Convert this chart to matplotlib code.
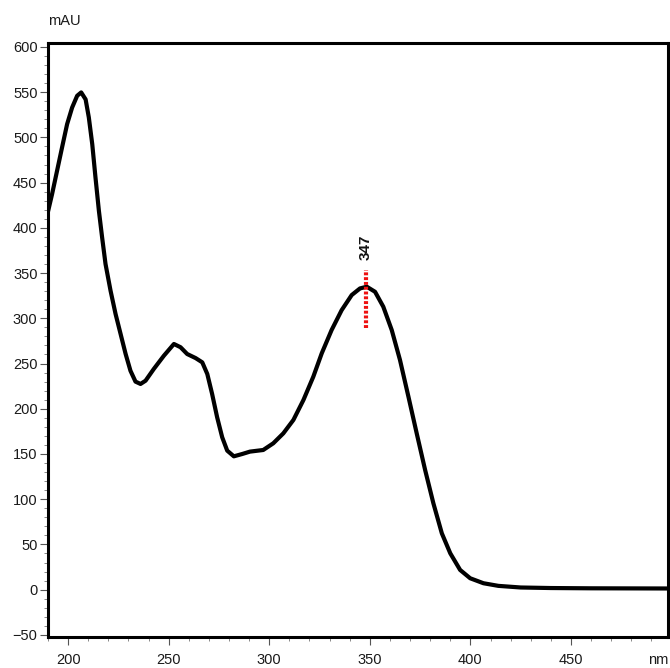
import matplotlib
matplotlib.use("Agg")
import matplotlib.pyplot as plt
from matplotlib.ticker import MultipleLocator, FixedLocator

plt.rcParams['font.family'] = ['Liberation Sans', 'DejaVu Sans']

# Spectrum (wavelength nm, absorbance mAU)
wavelength = [189.9, 192.0, 194.5, 197.0, 199.5, 202.0, 204.5, 206.5, 208.7, 210.3,
              212.0, 213.6, 215.3, 216.9, 218.6, 221.1, 223.6, 226.1, 228.6, 231.0,
              233.5, 236.0, 238.5, 242.6, 247.6, 252.6, 255.9, 259.2, 263.4, 266.7,
              269.2, 271.6, 274.1, 276.6, 279.1, 282.4, 286.6, 290.4, 297.0, 302.0,
              307.0, 312.0, 317.0, 321.9, 326.1, 331.0, 336.0, 341.0, 345.1, 348.5,
              352.6, 356.7, 360.9, 365.0, 369.2, 373.3, 377.5, 381.6, 385.8, 390.0,
              394.9, 399.9, 406.5, 413.9, 425.0, 440.0, 460.0, 498.0]
absorbance = [417.0, 437.0, 463.0, 489.0, 514.6, 533.0, 546.0, 549.7, 542.0, 522.0,
              492.5, 455.8, 418.9, 389.5, 360.0, 330.5, 304.7, 282.6, 260.5, 242.0,
              230.0, 227.4, 231.0, 244.0, 258.6, 271.6, 268.0, 260.5, 256.0, 251.3,
              238.4, 216.3, 190.5, 168.5, 153.7, 147.4, 150.0, 152.6, 154.4, 161.8,
              172.8, 187.6, 209.7, 235.4, 261.3, 287.0, 309.0, 325.7, 333.0, 334.9,
              329.3, 312.8, 287.0, 253.9, 213.3, 172.9, 132.3, 95.5, 62.3, 40.2,
              21.8, 12.6, 7.1, 4.2, 2.4, 1.8, 1.5, 1.3]

peak_label = "347"
peak_x = 348.0
peak_line = [289.0, 353.0]
peak_text_y = 364.0

x_major = [200, 250, 300, 350, 400, 450]
x_labels = ["200", "250", "300", "350", "400", "450"]
y_major = list(range(-50, 601, 50))

fig = plt.figure(figsize=(6.70, 6.68), dpi=100)
ax = fig.add_axes([48/670, 1-636.7/668, (667.5-48)/670, (636.7-43.3)/668])

ax.plot(wavelength, absorbance, color='black', lw=3.0, solid_joinstyle='round',
        solid_capstyle='round', zorder=3)

ax.plot([peak_x, peak_x], peak_line, color='#ee1111', lw=3.0,
        dashes=(0.7, 0.45), zorder=4)
ax.text(peak_x, peak_text_y, peak_label, rotation=90, ha='center', va='bottom',
        fontsize=11, fontweight='bold', color='#111111')

ax.set_xlim(190, 498)
ax.set_ylim(-52, 604)

ax.xaxis.set_major_locator(FixedLocator(x_major))
ax.set_xticklabels(x_labels)
ax.xaxis.set_minor_locator(MultipleLocator(10))
ax.yaxis.set_major_locator(FixedLocator(y_major))
ax.yaxis.set_minor_locator(MultipleLocator(10))

ax.tick_params(axis='both', which='major', labelsize=10.5, colors='#555555',
               labelcolor='#1a1a1a', width=0.8)
ax.tick_params(axis='both', which='minor', colors='#888888', width=0.7)
ax.tick_params(axis='x', which='major', length=6, pad=6)
ax.tick_params(axis='x', which='minor', length=3)
ax.tick_params(axis='y', which='major', length=6, pad=1.5)
ax.tick_params(axis='y', which='minor', length=2.7)

for s in ax.spines.values():
    s.set_linewidth(2.2)
    s.set_color('black')

fig.text(48/670, 1-21/668, "mAU", ha='left', va='center', fontsize=10.5,
         color='#1a1a1a')
fig.text(668/670, 1-659.5/668, "nm", ha='right', va='center', fontsize=10.5,
         color='#1a1a1a')

fig.savefig("out.png", dpi=100)
